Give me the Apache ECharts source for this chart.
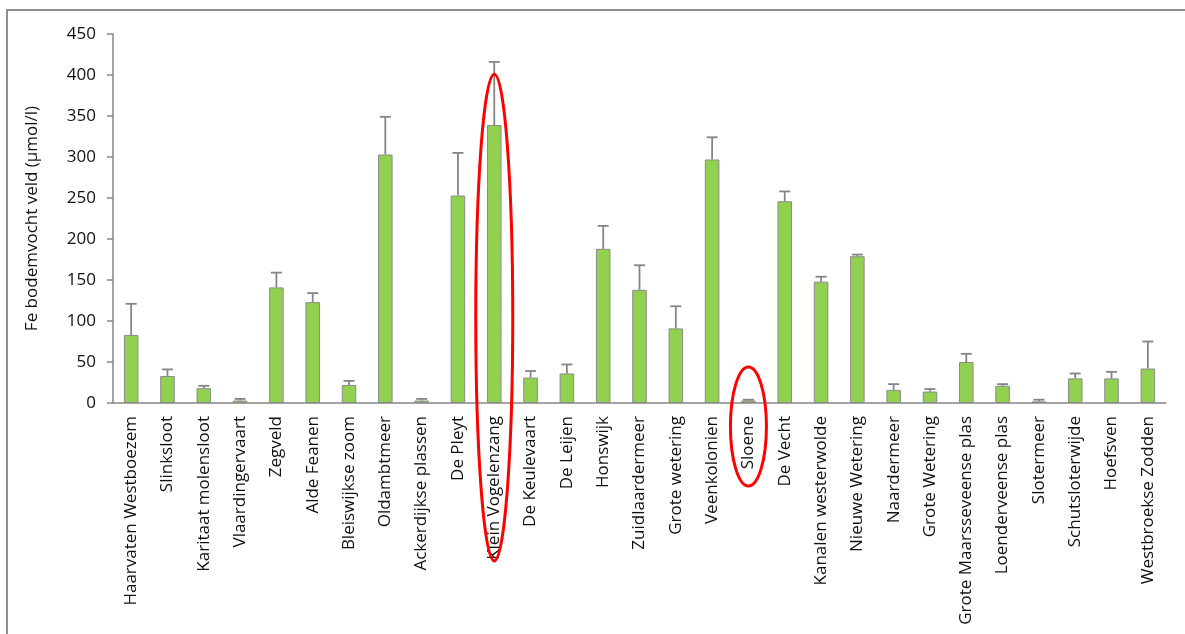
<!DOCTYPE html>
<html>
<head>
<meta charset="utf-8">
<script src="https://cdn.jsdelivr.net/npm/echarts@6/dist/echarts.min.js"></script>
<style>
  html, body { margin: 0; padding: 0; background: #fff; }
  #chart { width: 1185px; height: 634px; }
</style>
</head>
<body>
<div id="chart"></div>
<script>
// Sampling locations
const locations = [
  'Haarvaten Westboezem', 'Slinksloot', 'Karitaat molensloot', 'Vlaardingervaart',
  'Zegveld', 'Alde Feanen', 'Bleiswijkse zoom', 'Oldambtmeer', 'Ackerdijkse plassen',
  'De Pleyt', 'Klein Vogelenzang', 'De Keulevaart', 'De Leijen', 'Honswijk',
  'Zuidlaardermeer', 'Grote wetering', 'Veenkolonien', 'Sloene', 'De Vecht',
  'Kanalen westerwolde', 'Nieuwe Wetering', 'Naardermeer', 'Grote Wetering',
  'Grote Maarsseveense plas', 'Loenderveense plas', 'Slotermeer', 'Schutsloterwijde',
  'Hoefsven', 'Westbroekse Zodden'
];

// Mean Fe in soil moisture (µmol/l)
const feMean = [
  83, 33, 18, 3, 141, 123, 22, 303, 3,
  253, 339, 31, 36, 188,
  138, 91, 297, 3, 246,
  148, 179, 16, 14,
  50, 21, 2, 30,
  30, 42
];

// Standard deviation (upper error bar length)
const feErr = [
  38, 8, 3, 2, 18, 11, 5, 46, 2,
  52, 77, 8, 11, 28,
  30, 27, 27, 1, 12,
  6, 2, 7, 3,
  10, 2, 2, 6,
  8, 33
];

// Locations highlighted with a red ellipse
const highlighted = ['Klein Vogelenzang', 'Sloene'];

const yTicks = { min: 0, max: 450, interval: 50 };

const axisGrey = '#868686';
const textColor = '#111111';
const font = 'Open Sans';
const fontSize = 17;

const chart = echarts.init(document.getElementById('chart'), null, { renderer: 'canvas' });

const option = {
  backgroundColor: '#ffffff',
  animation: false,
  grid: { left: 113, right: 19, top: 34, bottom: 231, containLabel: false },
  xAxis: {
    type: 'category',
    data: locations,
    boundaryGap: true,
    axisLine: { lineStyle: { color: axisGrey, width: 1.5 } },
    axisTick: { alignWithLabel: false, length: 6, lineStyle: { color: axisGrey, width: 1.5 } },
    axisLabel: {
      rotate: 90, interval: 0, margin: 13,
      color: textColor, fontFamily: font, fontSize: fontSize
    },
    splitLine: { show: false }
  },
  yAxis: {
    type: 'value',
    min: yTicks.min, max: yTicks.max, interval: yTicks.interval,
    name: 'Fe bodemvocht veld (µmol/l)',
    nameLocation: 'middle',
    nameRotate: 90,
    nameGap: 72,
    nameTextStyle: { color: textColor, fontFamily: font, fontSize: fontSize },
    axisLine: { show: true, lineStyle: { color: axisGrey, width: 1.5 } },
    axisTick: { show: true, length: 6, lineStyle: { color: axisGrey, width: 1.5 } },
    axisLabel: { color: textColor, fontFamily: font, fontSize: fontSize, margin: 17 },
    splitLine: { show: false }
  },
  series: [
    {
      name: 'Fe',
      type: 'bar',
      data: feMean,
      barWidth: '40%',
      itemStyle: { color: '#92d050', borderColor: '#8a8a8a', borderWidth: 1 },
      z: 2
    },
    {
      name: 'Fe sd',
      type: 'custom',
      z: 3,
      data: feMean.map((v, i) => [i, v, v + feErr[i]]),
      encode: { x: 0, y: [1, 2] },
      renderItem: function (params, api) {
        const x = api.value(0);
        const base = api.coord([x, api.value(1)]);
        const top = api.coord([x, api.value(2)]);
        const half = 5.5;
        const style = { stroke: '#858585', lineWidth: 1.8 };
        return {
          type: 'group',
          children: [
            { type: 'line', shape: { x1: base[0], y1: base[1], x2: top[0], y2: top[1] }, style: style },
            { type: 'line', shape: { x1: top[0] - half, y1: top[1], x2: top[0] + half, y2: top[1] }, style: style }
          ]
        };
      }
    }
  ]
};

chart.setOption(option);

// Frame lines and highlight ellipses placed from the axis scales
const px = (cat, val) => chart.convertToPixel({ seriesIndex: 0 }, [cat, val]);

const k1 = px(highlighted[0], 0);
const k1Top = px(highlighted[0], 401)[1];
const k1Bottom = 561;
const s1 = px(highlighted[1], 0);
const s1Top = px(highlighted[1], 44)[1];
const s1Bottom = 486;

chart.setOption({
  graphic: [
    {
      type: 'polyline', silent: true,
      shape: { points: [[7, 634], [7, 10], [1185, 10]] },
      style: { stroke: '#8f8f8f', lineWidth: 2, fill: null }
    },
    {
      type: 'ellipse', silent: true, z: 10,
      shape: { cx: k1[0], cy: (k1Top + k1Bottom) / 2, rx: 18.5, ry: (k1Bottom - k1Top) / 2 },
      style: { stroke: '#ff0000', lineWidth: 3, fill: null }
    },
    {
      type: 'ellipse', silent: true, z: 10,
      shape: { cx: s1[0], cy: (s1Top + s1Bottom) / 2, rx: 18, ry: (s1Bottom - s1Top) / 2 },
      style: { stroke: '#ff0000', lineWidth: 3, fill: null }
    }
  ]
});
</script>
</body>
</html>
